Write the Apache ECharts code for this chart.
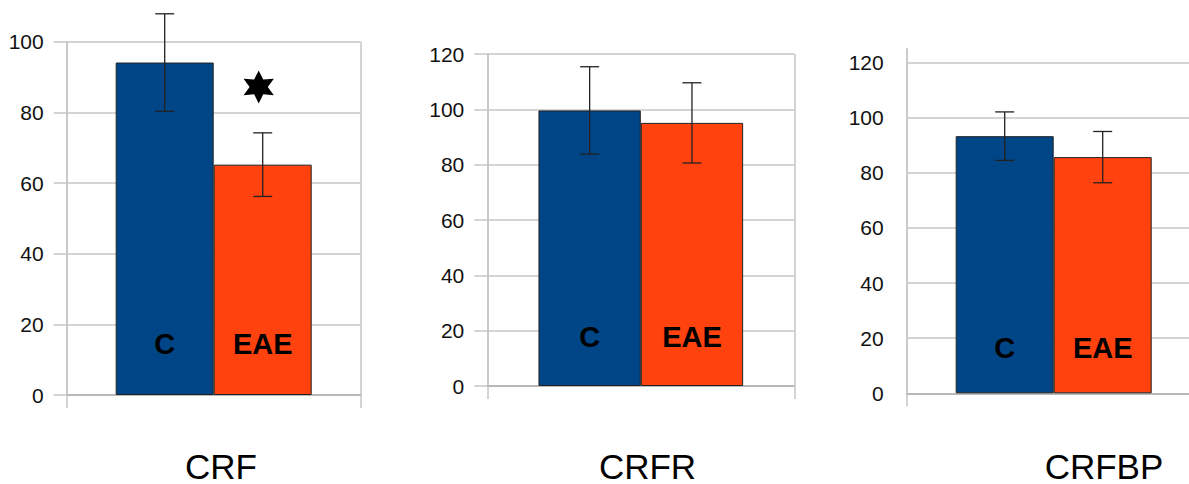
<!DOCTYPE html>
<html><head><meta charset="utf-8">
<script src="https://cdn.jsdelivr.net/npm/echarts@6/dist/echarts.min.js"></script>
<style>html,body{margin:0;padding:0;background:#fff;overflow:hidden}#c{width:1189px;height:484px}</style>
</head><body><div id="c"></div>
<script>
// ---- data ----
const panels = ['CRF', 'CRFR', 'CRFBP'];
const groups = ['C', 'EAE'];
const meanC = [94.1, 99.6, 93.3];
const meanEAE = [65.2, 95.1, 85.7];
const errC = [13.8, 15.8, 8.8];
const errEAE = [9.0, 14.5, 9.3];
const yMax = [100, 120, 125];        // axis extent
const yStep = [20, 20, 20];          // tick interval (labels 0..100 / 0..120)
const starLevel = [87.2, null, null]; // significance marker over EAE

// ---- layout / style ----
const FONT = 'Liberation Sans, Arial, sans-serif';
const GRID_COLOR = '#c6c6c6';
const gridBoxes = [
  {left: 66.7, top: 41.7, width: 294, height: 353.3},
  {left: 487.3, top: 54, width: 307, height: 332},
  {left: 906.7, top: 48.8, width: 294, height: 344.5}
];
const titleX = [221, 647.5, 1104];
const labelDist = [37, 35, 31];
const colors = ['#004586', '#ff420e'];

const option = {
  animation: false,
  title: panels.map((t, i) => ({
    text: t, left: titleX[i], top: 451, textAlign: 'center', padding: 0,
    textStyle: {fontSize: 35, lineHeight: 30, fontWeight: 'normal', color: '#000', fontFamily: FONT}
  })),
  grid: gridBoxes.map(g => Object.assign({containLabel: false, outerBoundsMode: 'none'}, g)),
  xAxis: panels.map((p, i) => ({
    gridIndex: i, type: 'category', data: [p], boundaryGap: true,
    axisLine: {show: true, lineStyle: {color: '#b8b8b8', width: 2}},
    axisTick: {show: true, length: 13, lineStyle: {color: GRID_COLOR, width: 1.5}},
    axisLabel: {show: false},
    splitLine: {show: true, lineStyle: {color: GRID_COLOR, width: 1.5}}
  })),
  yAxis: panels.map((p, i) => ({
    gridIndex: i, type: 'value', min: 0, max: yMax[i], interval: yStep[i],
    axisLine: {show: true, lineStyle: {color: GRID_COLOR, width: 1.5}},
    axisTick: {show: i < 2, length: 13, lineStyle: {color: GRID_COLOR, width: 1.5}},
    axisLabel: {color: '#111', fontSize: 21, margin: 23, fontFamily: FONT,
                showMaxLabel: yMax[i] % yStep[i] === 0},
    splitLine: {show: true, showMaxLine: yMax[i] % yStep[i] === 0,
                lineStyle: {color: GRID_COLOR, width: 1.5}}
  })),
  series: []
};

panels.forEach((p, i) => {
  const means = [meanC[i], meanEAE[i]];
  groups.forEach((g, k) => {
    option.series.push({
      type: 'bar', name: g, xAxisIndex: i, yAxisIndex: i,
      data: [means[k]], barWidth: '33.333%', barGap: '0%',
      itemStyle: {color: colors[k], borderColor: '#222', borderWidth: 1},
      label: {show: true, position: 'insideBottom', distance: labelDist[i], formatter: g,
              fontSize: 29, fontWeight: 'bold', color: '#000', fontFamily: FONT},
      z: 2
    });
  });
  // error bars (+ significance star) on the bars' centres
  const errs = [errC[i], errEAE[i]];
  const data = [[0, means[0], errs[0], -1, null], [0, means[1], errs[1], 1, starLevel[i]]];
  option.series.push({
    type: 'custom', xAxisIndex: i, yAxisIndex: i, data: data, z: 10, silent: true,
    renderItem: function (params, api) {
      const base = api.coord([api.value(0), api.value(1)]);
      const band = api.size([1, 0])[0];
      const cx = base[0] + api.value(3) * band / 6;
      const hi = api.coord([api.value(0), api.value(1) + api.value(2)])[1];
      const lo = api.coord([api.value(0), api.value(1) - api.value(2)])[1];
      const cap = 9.5;
      const st = {stroke: '#222', lineWidth: 1.3};
      const children = [
        {type: 'line', shape: {x1: cx, y1: hi, x2: cx, y2: lo}, style: st},
        {type: 'line', shape: {x1: cx - cap, y1: hi, x2: cx + cap, y2: hi}, style: st},
        {type: 'line', shape: {x1: cx - cap, y1: lo, x2: cx + cap, y2: lo}, style: st}
      ];
      const sv = api.value(4);
      if (sv !== null && sv !== undefined && !isNaN(sv) && sv !== '-') {
        const sy = api.coord([api.value(0), sv])[1];
        const sx = cx - 4;
        const pts = [];
        for (let n = 0; n < 12; n++) {
          const a = (-90 + n * 30) * Math.PI / 180;
          const r = n % 2 === 0 ? 1 : 0.52;
          pts.push([sx + Math.cos(a) * r * 17.5, sy + Math.sin(a) * r * 16.5]);
        }
        children.push({type: 'polygon', shape: {points: pts}, style: {fill: '#000'}});
      }
      return {type: 'group', children: children};
    }
  });
});

const chart = echarts.init(document.getElementById('c'), null, {renderer: 'svg'});
chart.setOption(option);
</script>
</body></html>
